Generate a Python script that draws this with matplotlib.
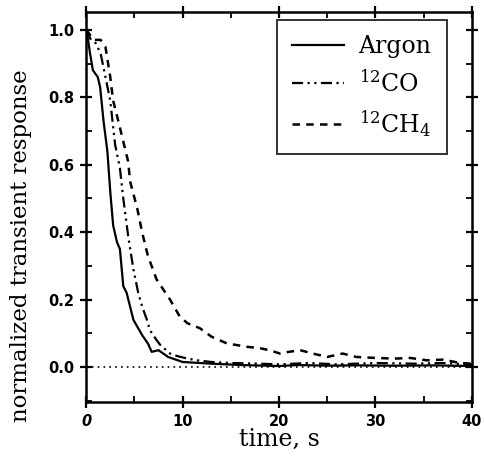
import matplotlib

matplotlib.use("Agg")
import matplotlib.pyplot as plt
from matplotlib.ticker import MultipleLocator

# values
argon_t = [0, 0.2, 0.4, 0.7, 1.2, 1.45, 1.8, 2.2, 2.5, 2.8, 3.2, 3.5, 3.85, 4.2,
           4.9, 5.8, 6.4, 6.8, 7.5, 8.5, 10, 13, 16, 20, 22, 25, 28, 32, 36, 40]
argon_y = [1.0, 0.97, 0.93, 0.88, 0.86, 0.83, 0.73, 0.64, 0.52, 0.42, 0.37, 0.35,
           0.24, 0.22, 0.14, 0.095, 0.07, 0.045, 0.05, 0.03, 0.015, 0.01, 0.006,
           0.003, 0.006, 0.004, 0.005, 0.004, 0.005, 0.003]

co_t = [0, 0.5, 1.0, 1.5, 2.0, 2.5, 3.0, 3.5, 3.85, 4.35, 4.9, 5.4, 5.8, 6.3, 6.6,
        7.3, 7.7, 8.7, 9.4, 10.5, 11.5, 13, 15, 18, 20, 23, 26, 30, 34, 37, 40]
co_y = [1.0, 0.97, 0.96, 0.93, 0.86, 0.79, 0.66, 0.59, 0.5, 0.39, 0.29, 0.22, 0.18,
        0.14, 0.11, 0.08, 0.065, 0.04, 0.033, 0.025, 0.02, 0.015, 0.012, 0.01,
        0.008, 0.012, 0.008, 0.012, 0.01, 0.012, 0.008]

ch4_t = [0, 0.8, 1.5, 2.0, 2.5, 2.8, 3.5, 4.35, 4.56, 5.3, 5.8, 6.4, 7.3, 8.7, 9.7,
         10.5, 11.8, 13, 14.6, 16.7, 18, 19, 20.1, 21, 22.2, 23.5, 25, 26.6, 28, 30,
         32, 33.6, 35.3, 37, 38.8, 40]
ch4_y = [1.0, 0.97, 0.97, 0.95, 0.86, 0.79, 0.71, 0.61, 0.55, 0.47, 0.4, 0.33, 0.26,
         0.2, 0.15, 0.13, 0.115, 0.09, 0.07, 0.06, 0.056, 0.05, 0.04, 0.045, 0.05,
         0.04, 0.03, 0.04, 0.03, 0.027, 0.025, 0.027, 0.02, 0.022, 0.012, 0.01]

serif = "DejaVu Serif"
plt.rcParams["mathtext.fontset"] = "dejavuserif"

fig = plt.figure(figsize=(4.84, 4.58), dpi=100)
ax = fig.add_axes([0.178, 0.122, 0.797, 0.852])

ax.axhline(0.0, color="black", lw=1.2, ls=(0, (1, 2.5)), zorder=1)
ax.plot(argon_t, argon_y, color="black", lw=1.6, label="Argon")
ax.plot(co_t, co_y, color="black", lw=1.6, ls=(0, (5, 2, 1, 2, 1, 2)),
        label=r"$^{12}\mathrm{CO}$")
ax.plot(ch4_t, ch4_y, color="black", lw=1.8, ls=(0, (3, 2.5)),
        label=r"$^{12}\mathrm{CH}_4$")

ax.set_xlim(0, 40)
ax.set_ylim(-0.104, 1.053)
ax.xaxis.set_major_locator(MultipleLocator(10))
ax.xaxis.set_minor_locator(MultipleLocator(5))
ax.yaxis.set_major_locator(MultipleLocator(0.2))
ax.yaxis.set_minor_locator(MultipleLocator(0.1))

for side in ax.spines.values():
    side.set_linewidth(1.8)

ax.tick_params(which="major", direction="inout", length=9, width=1.6,
               top=True, right=True, labelsize=10.5, pad=4)
ax.tick_params(which="minor", direction="in", length=4, width=1.3,
               top=True, right=True)

ax.set_xticks([0, 10, 20, 30, 40])
ax.set_xticklabels(["0", "10", "20", "30", "40"], fontweight="bold")
ax.get_xticklabels()[0].set_style("italic")
ax.set_yticklabels([f"{v:.1f}" for v in ax.get_yticks()], fontweight="bold")

ax.set_xlabel("time, s", family=serif, fontsize=17, labelpad=-1)
ax.set_ylabel("normalized transient response", family=serif, fontsize=16.5)
ax.yaxis.set_label_coords(-0.14, 0.40)

leg = ax.legend(loc="upper right", bbox_to_anchor=(0.935, 0.979), frameon=True,
                fancybox=False, edgecolor="black", handlelength=2.2,
                handletextpad=0.6, borderaxespad=0, borderpad=0.65,
                prop={"family": serif, "size": 17}, labelspacing=0.5)
leg.get_frame().set_linewidth(1.4)

fig.savefig("out.png", dpi=100)
